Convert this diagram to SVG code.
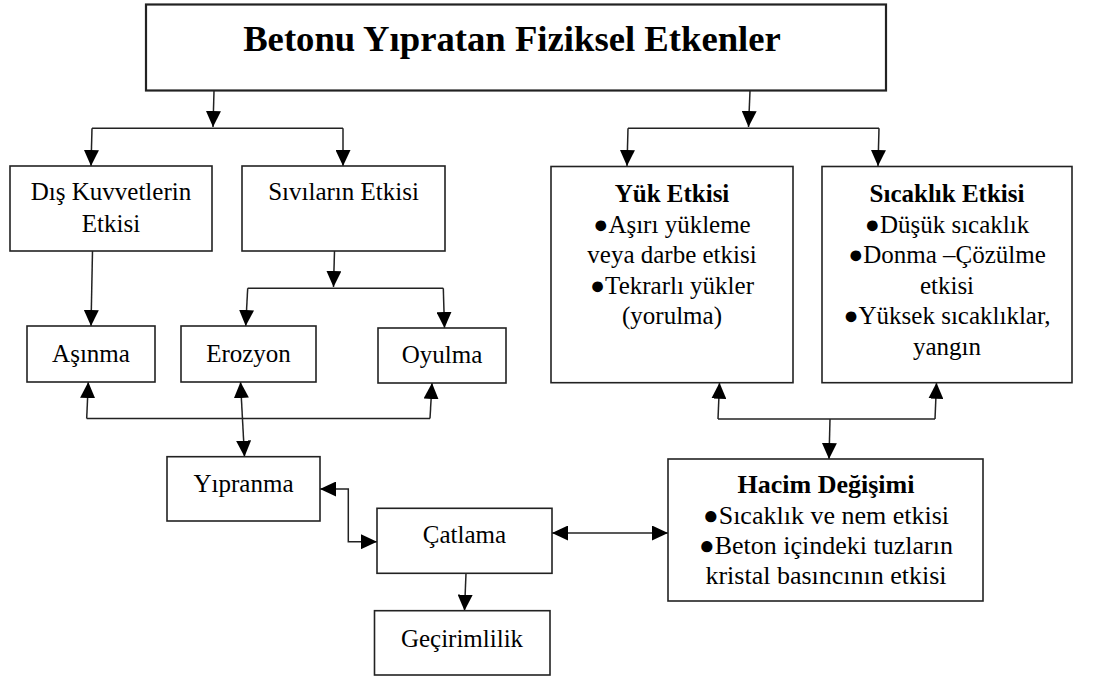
<svg xmlns="http://www.w3.org/2000/svg" width="1101" height="679" viewBox="0 0 1101 679">
<defs>
<marker id="ah" markerUnits="userSpaceOnUse" markerWidth="17" markerHeight="15" refX="16" refY="7.5" orient="auto-start-reverse" viewBox="0 0 17 15">
<path d="M0,0 L16,7.5 L0,15 z" fill="#000"/>
</marker>
<style>
.box{fill:#fff;stroke:#222;stroke-width:1.6}
.t{font-family:"Liberation Serif","Times New Roman",serif;font-size:25px;fill:#000;text-anchor:middle}
.b{font-weight:bold}
.c{fill:none;stroke:#222;stroke-width:1.5}
.a{marker-end:url(#ah)}
.aa{marker-start:url(#ah);marker-end:url(#ah)}
</style>
</defs>
<rect width="1101" height="679" fill="#fff"/>
<g id="connectors">
<path class="c a" d="M214,91 L213,127"/>
<path class="c" d="M92,128.3 H343"/>
<path class="c a" d="M92,128.3 L91,166"/>
<path class="c a" d="M343,128.3 L343,166"/>
<path class="c a" d="M750,91 L748.5,127"/>
<path class="c" d="M628,128.3 H879"/>
<path class="c a" d="M628,128.3 L627,166"/>
<path class="c a" d="M879,128.3 L878,166"/>
<path class="c a" d="M92.5,251 L91,326"/>
<path class="c a" d="M334.5,251 L333.5,287"/>
<path class="c" d="M247.7,288.3 H443.3"/>
<path class="c a" d="M247.7,288.3 L245.7,326"/>
<path class="c a" d="M443.3,288.3 L444.5,328"/>
<path class="c" d="M86.7,418.5 H430"/>
<path class="c a" d="M86.7,418.5 L88.3,382"/>
<path class="c a" d="M430,418.5 L432,383"/>
<path class="c aa" d="M240.5,382 L244.5,456.7"/>
<path class="c aa" d="M320,489 H348.3 V541.7 H377"/>
<path class="c aa" d="M552,533 H668"/>
<path class="c a" d="M466,573.3 L464.5,610.7"/>
<path class="c" d="M718,419 H935"/>
<path class="c a" d="M718,419 L719.5,382.7"/>
<path class="c a" d="M935,419 L936.5,382.7"/>
<path class="c a" d="M830,419 L829,459"/>
</g>
<g id="title">
<rect class="box" x="146" y="4.5" width="740" height="86" style="stroke-width:2.2"/>
<text class="t b" x="512" y="51" style="font-size:36.7px">Betonu Yıpratan Fiziksel Etkenler</text>
</g>
<g id="dis">
<rect class="box" x="10" y="166" width="202" height="85"/>
<text class="t" x="111" y="200">Dış Kuvvetlerin</text>
<text class="t" x="111" y="232">Etkisi</text>
</g>
<g id="sivi">
<rect class="box" x="242" y="166" width="203" height="85"/>
<text class="t" x="343.5" y="200">Sıvıların Etkisi</text>
</g>
<g id="yuk">
<rect class="box" x="551" y="166.5" width="242" height="216.2"/>
<text class="t b" x="672" y="202">Yük Etkisi</text>
<text class="t" x="672" y="233">●Aşırı yükleme</text>
<text class="t" x="672" y="263">veya darbe etkisi</text>
<text class="t" x="672" y="294">●Tekrarlı yükler</text>
<text class="t" x="672" y="324">(yorulma)</text>
</g>
<g id="sicaklik">
<rect class="box" x="822" y="166.5" width="250" height="216.2"/>
<text class="t b" x="947" y="202">Sıcaklık Etkisi</text>
<text class="t" x="947" y="233">●Düşük sıcaklık</text>
<text class="t" x="947" y="263">●Donma –Çözülme</text>
<text class="t" x="947" y="294">etkisi</text>
<text class="t" x="947" y="324">●Yüksek sıcaklıklar,</text>
<text class="t" x="947" y="355">yangın</text>
</g>
<g id="asinma">
<rect class="box" x="27" y="326" width="128" height="56"/>
<text class="t" x="91" y="361.5">Aşınma</text>
</g>
<g id="erozyon">
<rect class="box" x="181" y="326" width="135" height="56"/>
<text class="t" x="248.5" y="361.5">Erozyon</text>
</g>
<g id="oyulma">
<rect class="box" x="378" y="328" width="128" height="55"/>
<text class="t" x="442" y="363">Oyulma</text>
</g>
<g id="yipranma">
<rect class="box" x="167" y="456.7" width="153" height="64.3"/>
<text class="t" x="243.5" y="491.5">Yıpranma</text>
</g>
<g id="catlama">
<rect class="box" x="377" y="508.3" width="175" height="65"/>
<text class="t" x="464.5" y="543">Çatlama</text>
</g>
<g id="gecirimlilik">
<rect class="box" x="374.5" y="610.7" width="175.5" height="64.3"/>
<text class="t" x="462" y="646.5">Geçirimlilik</text>
</g>
<g id="hacim">
<rect class="box" x="668" y="459" width="315" height="142"/>
<text class="t b" x="826" y="492.7" style="font-size:26px">Hacim Değişimi</text>
<text class="t" x="826" y="524" style="font-size:26px">●Sıcaklık ve nem etkisi</text>
<text class="t" x="826" y="554" style="font-size:26px">●Beton içindeki tuzların</text>
<text class="t" x="826" y="584" style="font-size:26px">kristal basıncının etkisi</text>
</g>
</svg>
